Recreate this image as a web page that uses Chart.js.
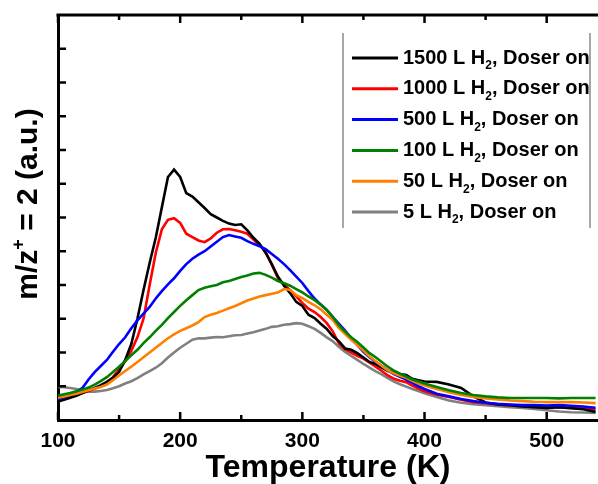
<!DOCTYPE html>
<html>
<head>
<meta charset="utf-8">
<script src="https://cdn.jsdelivr.net/npm/chart.js@4.4.1/dist/chart.umd.min.js"></script>
<style>
  html, body { margin: 0; padding: 0; background: #fff; }
  #wrap { width: 598px; height: 484px; position: relative; }
</style>
</head>
<body>
<div id="wrap"><canvas id="tpd"></canvas></div>
<script>
// temperature grid (K)
const temps = [100,105,110,115,120,125,130,135,140,145,150,155,160,165,170,175,180,185,190,195,
  200,205,210,215,220,225,230,235,240,245,250,255,260,265,270,275,280,285,290,295,
  300,305,310,315,320,325,330,335,340,345,350,355,360,365,370,375,380,385,390,395,
  400,410,420,430,440,450,460,470,480,490,500,510,520,530,540];

const h2_1500 = [0.55,0.60,0.66,0.72,0.80,0.88,0.95,1.03,1.13,1.25,1.42,1.78,2.25,3.00,3.85,4.65,5.40,6.30,7.20,7.42,
  7.20,6.72,6.62,6.45,6.28,6.10,6.00,5.90,5.82,5.78,5.80,5.62,5.40,5.22,4.95,4.62,4.25,3.98,3.76,3.50,
  3.38,3.12,3.02,2.85,2.70,2.48,2.33,2.12,2.08,1.98,1.85,1.72,1.66,1.55,1.45,1.42,1.36,1.33,1.22,1.18,
  1.14,1.13,1.05,0.95,0.70,0.52,0.46,0.44,0.40,0.38,0.36,0.38,0.35,0.32,0.24];
const h2_1000 = [0.62,0.66,0.70,0.75,0.80,0.86,0.93,1.00,1.12,1.27,1.50,1.74,2.05,2.45,3.00,4.00,4.95,5.65,5.93,5.98,
  5.84,5.52,5.42,5.32,5.27,5.38,5.55,5.65,5.66,5.62,5.58,5.52,5.35,5.18,4.98,4.60,4.20,4.02,3.85,3.66,
  3.47,3.30,3.20,3.05,2.87,2.62,2.26,2.10,2.00,1.90,1.82,1.70,1.58,1.45,1.32,1.22,1.16,1.12,1.02,0.93,
  0.85,0.75,0.68,0.60,0.53,0.50,0.46,0.43,0.41,0.39,0.38,0.37,0.36,0.34,0.30];
const h2_500 = [0.62,0.67,0.74,0.83,0.95,1.20,1.42,1.60,1.78,2.02,2.25,2.45,2.72,2.95,3.15,3.35,3.60,3.82,4.02,4.20,
  4.42,4.62,4.78,4.90,5.00,5.14,5.28,5.42,5.48,5.44,5.40,5.30,5.22,5.15,5.06,4.92,4.78,4.62,4.44,4.25,
  4.06,3.82,3.60,3.42,3.26,3.05,2.85,2.65,2.42,2.22,2.02,1.86,1.72,1.60,1.47,1.36,1.28,1.20,1.10,1.00,
  0.92,0.78,0.70,0.62,0.56,0.51,0.48,0.46,0.44,0.44,0.43,0.44,0.42,0.40,0.36];
const h2_100 = [0.72,0.76,0.80,0.85,0.90,0.96,1.05,1.15,1.27,1.42,1.58,1.75,1.92,2.08,2.28,2.45,2.64,2.82,3.02,3.20,
  3.38,3.55,3.70,3.85,3.92,3.96,4.00,4.08,4.12,4.18,4.24,4.28,4.34,4.36,4.30,4.22,4.12,4.05,3.98,3.88,
  3.78,3.66,3.55,3.42,3.26,3.05,2.80,2.62,2.45,2.31,2.15,1.98,1.86,1.72,1.58,1.46,1.37,1.29,1.20,1.14,
  1.08,0.98,0.88,0.80,0.74,0.70,0.67,0.65,0.65,0.65,0.65,0.64,0.65,0.65,0.65];
const h2_50 = [0.66,0.70,0.74,0.78,0.83,0.88,0.93,0.98,1.05,1.18,1.32,1.45,1.58,1.72,1.86,2.00,2.14,2.28,2.42,2.54,
  2.64,2.72,2.80,2.90,3.05,3.12,3.17,3.24,3.31,3.38,3.46,3.54,3.60,3.66,3.70,3.74,3.78,3.88,3.85,3.70,
  3.61,3.50,3.40,3.28,3.12,2.96,2.72,2.55,2.38,2.22,2.06,1.88,1.74,1.60,1.47,1.38,1.31,1.25,1.16,1.08,
  1.02,0.92,0.82,0.74,0.68,0.64,0.61,0.58,0.56,0.54,0.53,0.53,0.53,0.52,0.50];
const h2_5 = [0.98,0.97,0.95,0.92,0.88,0.84,0.84,0.86,0.89,0.94,1.00,1.08,1.15,1.24,1.35,1.45,1.55,1.68,1.85,2.00,
  2.14,2.26,2.38,2.42,2.42,2.44,2.46,2.45,2.48,2.51,2.52,2.56,2.60,2.65,2.70,2.76,2.78,2.82,2.84,2.87,
  2.85,2.78,2.70,2.58,2.45,2.33,2.16,2.02,1.90,1.78,1.66,1.55,1.44,1.35,1.24,1.14,1.06,0.99,0.92,0.86,
  0.79,0.68,0.58,0.51,0.47,0.44,0.41,0.38,0.36,0.33,0.29,0.25,0.23,0.22,0.21];

const seriesLabels = ["1500 L H₂, Doser on", "1000 L H₂, Doser on", "500 L H₂, Doser on",
  "100 L H₂, Doser on", "50 L H₂, Doser on", "5 L H₂, Doser on"];
const seriesValues = [h2_1500, h2_1000, h2_500, h2_100, h2_50, h2_5];
const seriesColors = ["#000000", "#ff0000", "#0000ff", "#008000", "#ff8000", "#808080"];
const drawOrder = [3, 4, 2, 0, 1, 5]; // green ends up on top like in the figure

const xTickLabels = [100, 200, 300, 400, 500];
const xMinorTicks = [150, 250, 350, 450, 550];
const yTicks = [1, 2, 3, 4, 5, 6, 7, 8, 9, 10, 11];

const FONT = "Arial, 'Liberation Sans', sans-serif";

// inward ticks + top frame line
const frameTicks = {
  id: "frameTicks",
  afterDraw(chart) {
    const { ctx, chartArea: { left, right, top, bottom }, scales: { x, y } } = chart;
    ctx.save();
    ctx.strokeStyle = "#000";
    ctx.lineWidth = 3;
    ctx.beginPath();
    ctx.moveTo(left - 1.5, top);
    ctx.lineTo(right, top);
    ctx.stroke();

    ctx.lineWidth = 2.5;
    const tick = (v, len) => {
      const px = x.getPixelForValue(v);
      if (px > right) return;
      ctx.beginPath();
      ctx.moveTo(px, bottom); ctx.lineTo(px, bottom - len);
      ctx.moveTo(px, top); ctx.lineTo(px, top + len);
      ctx.stroke();
    };
    xTickLabels.forEach(v => tick(v, 8));
    xMinorTicks.forEach(v => tick(v, 5));
    yTicks.forEach(v => {
      const py = y.getPixelForValue(v);
      ctx.beginPath();
      ctx.moveTo(left, py); ctx.lineTo(left + 8, py);
      ctx.stroke();
    });

    // y title, m/z with superscript +
    ctx.translate(29, 204);
    ctx.rotate(-Math.PI / 2);
    ctx.fillStyle = "#000";
    ctx.textBaseline = "middle";
    ctx.textAlign = "left";
    const big = "bold 30px " + FONT, small = "bold 18px " + FONT;
    ctx.font = big;
    const w1 = ctx.measureText("m/z").width, w3 = ctx.measureText(" = 2 (a.u.)").width;
    ctx.font = small;
    const w2 = ctx.measureText("+").width;
    let tx = -(w1 + w2 + w3) / 2;
    ctx.font = big;
    ctx.fillText("m/z", tx, 0);
    tx += w1;
    ctx.font = small;
    ctx.fillText("+", tx, -10);
    tx += w2;
    ctx.font = big;
    ctx.fillText(" = 2 (a.u.)", tx, 0);
    ctx.restore();
  }
};

// legend box with subscript 2
const boxLegend = {
  id: "boxLegend",
  afterDraw(chart) {
    const { ctx } = chart;
    ctx.save();
    ctx.strokeStyle = "#8c8c8c";
    ctx.lineWidth = 1.5;
    ctx.beginPath();
    ctx.moveTo(343, 33); ctx.lineTo(343, 228);
    ctx.moveTo(590, 33); ctx.lineTo(590, 228);
    ctx.stroke();

    ctx.textBaseline = "middle";
    ctx.textAlign = "left";
    chart.data.datasets.forEach((ds, i) => {
      const yy = 58 + i * 30.8;
      ctx.strokeStyle = ds.borderColor;
      ctx.lineWidth = 3;
      ctx.beginPath();
      ctx.moveTo(352, yy); ctx.lineTo(398, yy);
      ctx.stroke();

      ctx.fillStyle = "#000";
      const parts = ds.label.split("₂");
      let xx = 403;
      ctx.font = "bold 20px " + FONT;
      ctx.fillText(parts[0], xx, yy);
      xx += ctx.measureText(parts[0]).width;
      ctx.font = "bold 12px " + FONT;
      ctx.fillText("2", xx, yy + 8);
      xx += ctx.measureText("2").width;
      ctx.font = "bold 20px " + FONT;
      ctx.fillText(parts[1], xx, yy);
    });
    ctx.restore();
  }
};

const datasets = seriesLabels.map((label, i) => ({
  label: label,
  data: temps.map((t, k) => ({ x: t, y: seriesValues[i][k] })),
  borderColor: seriesColors[i],
  borderWidth: 2.6,
  pointRadius: 0,
  fill: false,
  tension: 0,
  order: drawOrder[i]
}));

new Chart(document.getElementById("tpd"), {
  type: "line",
  data: { datasets },
  options: {
    responsive: true,
    maintainAspectRatio: false,
    animation: false,
    layout: { padding: { top: 15, right: 0, left: 0, bottom: 0 } },
    plugins: {
      legend: { display: false },
      tooltip: { enabled: false }
    },
    scales: {
      x: {
        type: "linear",
        min: 100,
        max: 542,
        grid: { display: false, drawTicks: false },
        border: { display: true, color: "#000", width: 3 },
        afterBuildTicks: scale => { scale.ticks = xTickLabels.map(v => ({ value: v })); },
        afterFit: scale => { scale.height = 64; },
        ticks: {
          color: "#000",
          padding: 9,
          maxRotation: 0,
          autoSkip: false,
          font: { family: FONT, size: 21, weight: "bold" }
        },
        title: {
          display: true,
          text: "Temperature (K)",
          color: "#000",
          padding: { top: 0, bottom: 0 },
          font: { family: FONT, size: 32, weight: "bold", lineHeight: 1.0 }
        }
      },
      y: {
        min: 0,
        max: 12,
        grid: { display: false, drawTicks: false },
        border: { display: true, color: "#000", width: 3 },
        afterFit: scale => { scale.width = 58; },
        ticks: { display: false },
        title: { display: false }
      }
    }
  },
  plugins: [frameTicks, boxLegend]
});
</script>
</body>
</html>
